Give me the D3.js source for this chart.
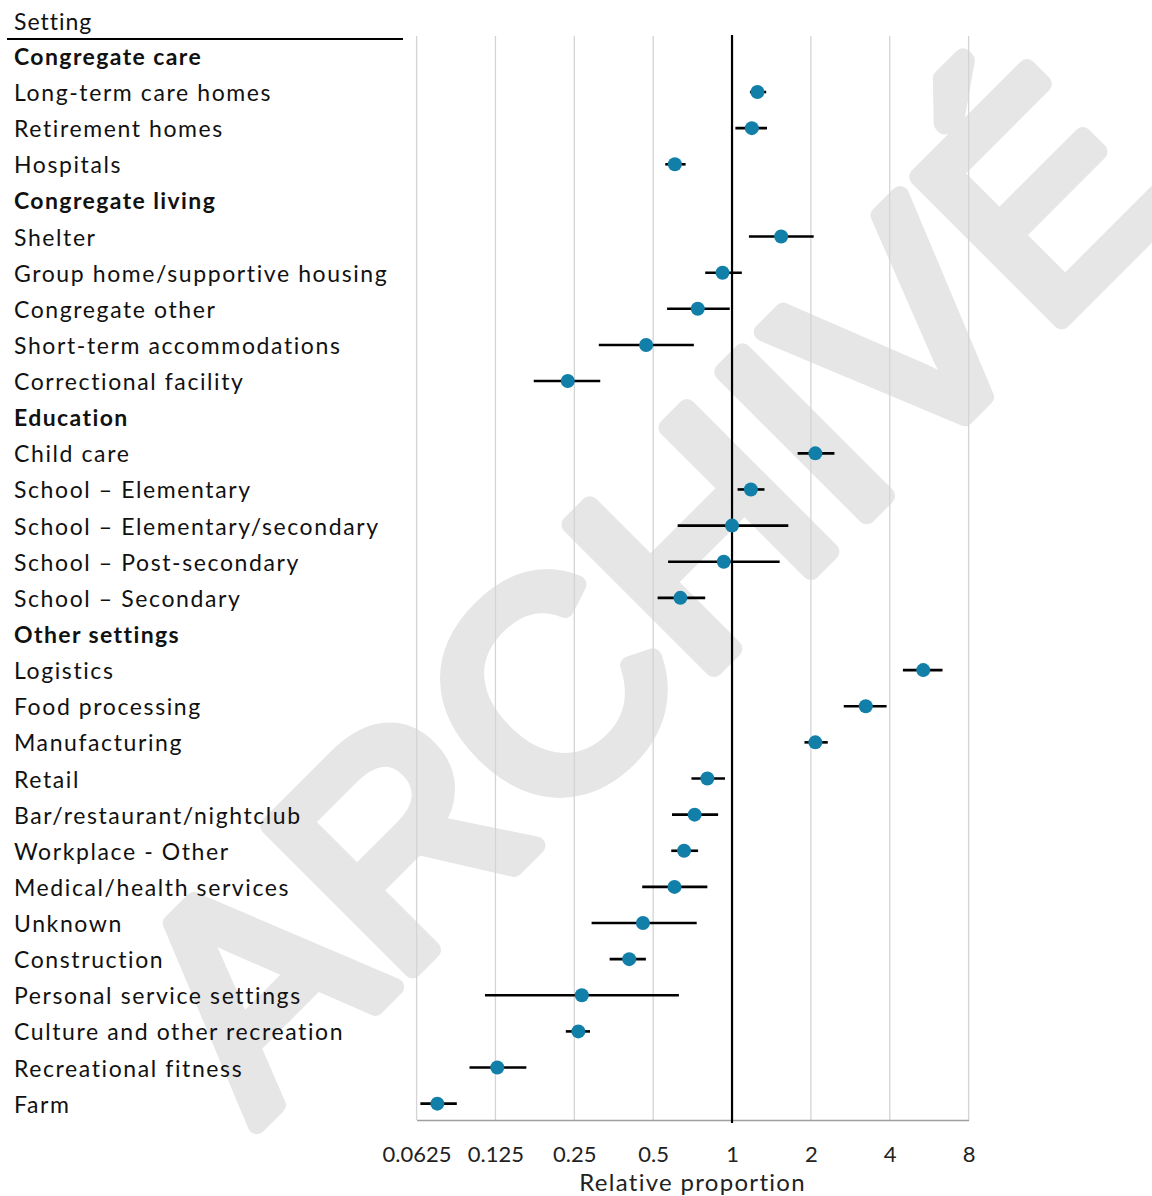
<!DOCTYPE html>
<html>
<head>
<meta charset="utf-8">
<script src="https://cdn.jsdelivr.net/npm/d3@7"></script>
<style>
  html, body { margin: 0; padding: 0; background: #fff; }
  svg { display: block; }
  .lbl { font-family: Lato, "Open Sans", sans-serif; font-size: 23px; fill: #111; letter-spacing: 1.6px; }
  .hd { font-weight: 700; letter-spacing: 1.4px; }
</style>
</head>
<body>
<script>
// Setting groups and the settings listed under each one
const headings = ["Congregate care", "Congregate living", "Education", "Other settings"];
const settings = [
  "Long-term care homes", "Retirement homes", "Hospitals",
  "Shelter", "Group home/supportive housing", "Congregate other", "Short-term accommodations", "Correctional facility",
  "Child care", "School \u2013 Elementary", "School \u2013 Elementary/secondary", "School \u2013 Post-secondary", "School \u2013 Secondary",
  "Logistics", "Food processing", "Manufacturing", "Retail", "Bar/restaurant/nightclub", "Workplace - Other",
  "Medical/health services", "Unknown", "Construction", "Personal service settings", "Culture and other recreation",
  "Recreational fitness", "Farm"
];
const settingGroup = [0,0,0, 1,1,1,1,1, 2,2,2,2,2, 3,3,3,3,3,3,3,3,3,3,3,3,3];

// Relative proportion with lower / upper interval bounds
const estimate = [1.25, 1.19, 0.605, 1.54, 0.92, 0.74, 0.47, 0.236, 2.08, 1.18, 1.00, 0.93, 0.635,
  5.37, 3.24, 2.08, 0.805, 0.72, 0.656, 0.603, 0.457, 0.405, 0.267, 0.259, 0.127, 0.075];
const lower = [1.17, 1.03, 0.556, 1.16, 0.79, 0.565, 0.31, 0.175, 1.78, 1.05, 0.62, 0.57, 0.52,
  4.49, 2.67, 1.89, 0.70, 0.59, 0.586, 0.454, 0.291, 0.341, 0.114, 0.232, 0.0995, 0.0646];
const upper = [1.35, 1.36, 0.665, 2.05, 1.09, 0.98, 0.715, 0.314, 2.46, 1.33, 1.64, 1.52, 0.79,
  6.36, 3.89, 2.32, 0.94, 0.885, 0.742, 0.805, 0.733, 0.469, 0.627, 0.287, 0.164, 0.089];

const tickValues = [0.0625, 0.125, 0.25, 0.5, 1, 2, 4, 8];
const tickLabels = ["0.0625", "0.125", "0.25", "0.5", "1", "2", "4", "8"];

// Build the row list: a heading row followed by its settings
const rows = [];
headings.forEach((h, g) => {
  rows.push({ label: h, heading: true });
  settings.forEach((s, i) => {
    if (settingGroup[i] === g) rows.push({ label: s, heading: false, est: estimate[i], lo: lower[i], hi: upper[i] });
  });
});

const W = 1152, H = 1196;
const plotTop = 36, plotBottom = 1120;

const svg = d3.select("body").append("svg").attr("width", W).attr("height", H);

const x = d3.scaleLog().base(2).domain([0.0625, 8]).range([416.6, 968.6]);
const y = d3.scalePoint().domain(d3.range(rows.length)).range([55.9, 55.9 + 36.13 * (rows.length - 1)]);

// Watermark
svg.append("text")
  .attr("transform", "translate(720,662) rotate(-45)")
  .attr("text-anchor", "middle")
  .style("font-family", "'Liberation Sans', Arial, sans-serif")
  .style("font-weight", "400")
  .style("font-size", "295px")
  .style("fill", "#e6e6e6")
  .style("stroke", "#e6e6e6")
  .style("stroke-width", "18px")
  .style("stroke-linejoin", "round")
  .style("stroke-linecap", "round")
  .text("ARCHIVÉ");

// Vertical gridlines
svg.append("g").selectAll("line").data(tickValues).join("line")
  .attr("x1", d => x(d)).attr("x2", d => x(d))
  .attr("y1", plotTop).attr("y2", plotBottom)
  .attr("stroke", "#d4d4d4").attr("stroke-width", 1.3);

// Bottom axis with tick labels
const xAxis = d3.axisBottom(x).tickValues(tickValues).tickFormat((d, i) => tickLabels[i]).tickSize(0).tickPadding(26);
const gx = svg.append("g").attr("transform", `translate(0,${plotBottom})`).call(xAxis);
gx.select(".domain").attr("stroke", "#a0a0a0").attr("stroke-width", 1.5);
gx.selectAll(".tick text")
  .style("font-family", "Lato, 'Open Sans', sans-serif").style("font-size", "22px").style("fill", "#222");

// Axis title
svg.append("text")
  .attr("x", (x.range()[0] + x.range()[1]) / 2).attr("y", 1191)
  .attr("text-anchor", "middle")
  .style("font-family", "Lato, 'Open Sans', sans-serif").style("font-size", "24px").style("fill", "#222")
  .style("letter-spacing", "1.3px")
  .text("Relative proportion");

// Reference line at 1
svg.append("line")
  .attr("x1", x(1)).attr("x2", x(1)).attr("y1", plotTop - 1).attr("y2", plotBottom + 3)
  .attr("stroke", "#000").attr("stroke-width", 2.2);

// Column header
svg.append("text").attr("class", "lbl").attr("x", 14).attr("y", 30).style("letter-spacing", "1px").text("Setting");
svg.append("line").attr("x1", 7).attr("x2", 403).attr("y1", 39).attr("y2", 39)
  .attr("stroke", "#000").attr("stroke-width", 2);

// Row labels
svg.append("g").selectAll("text").data(rows).join("text")
  .attr("class", d => d.heading ? "lbl hd" : "lbl")
  .attr("x", 14).attr("y", (d, i) => y(i) + 9)
  .text(d => d.label);

const dataRows = rows.map((d, i) => ({ ...d, i })).filter(d => !d.heading);

// Interval bars
svg.append("g").selectAll("line").data(dataRows).join("line")
  .attr("x1", d => x(d.lo)).attr("x2", d => x(d.hi))
  .attr("y1", d => y(d.i)).attr("y2", d => y(d.i))
  .attr("stroke", "#000").attr("stroke-width", 2.6);

// Point estimates
svg.append("g").selectAll("circle").data(dataRows).join("circle")
  .attr("cx", d => x(d.est)).attr("cy", d => y(d.i)).attr("r", 7)
  .attr("fill", "#117fa8");
</script>
</body>
</html>
